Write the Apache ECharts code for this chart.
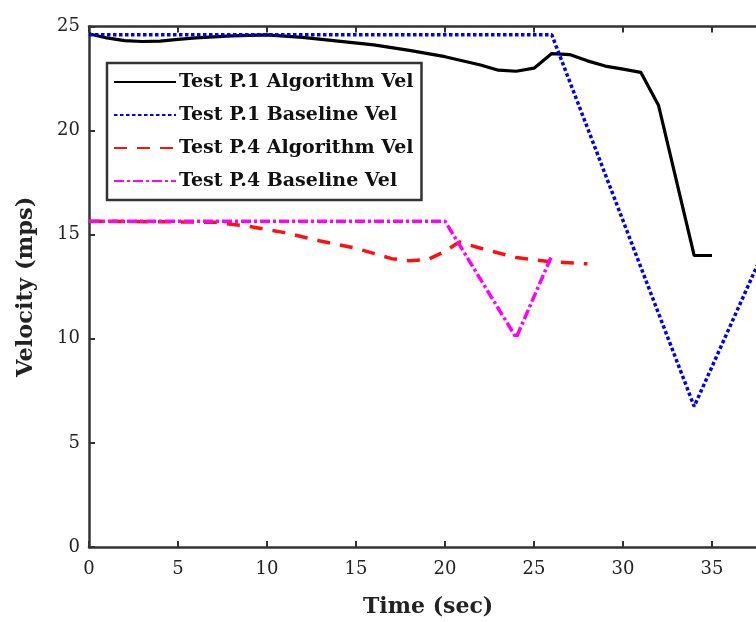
<!DOCTYPE html>
<html>
<head>
<meta charset="utf-8">
<script src="https://cdn.jsdelivr.net/npm/echarts@6/dist/echarts.min.js"></script>
<style>html,body{margin:0;padding:0;background:#fff}#c{width:756px;height:622px}</style>
</head>
<body>
<div id="c"></div>
<script>
const seriesNames = ['Test P.1 Algorithm Vel', 'Test P.1 Baseline Vel', 'Test P.4 Algorithm Vel', 'Test P.4 Baseline Vel'];
const xTicks = [0, 5, 10, 15, 20, 25, 30, 35, 40];
const yTicks = [0, 5, 10, 15, 20, 25];
const p1Algorithm = [[0,24.65],[1,24.45],[2,24.32],[3,24.28],[4,24.3],[5,24.38],[6,24.45],[7,24.5],[8,24.55],[10,24.6],[12,24.48],[14,24.3],[16,24.12],[18,23.85],[20,23.55],[22,23.15],[23,22.9],[24,22.85],[25,23.0],[26,23.7],[27,23.65],[28,23.35],[29,23.1],[30,22.95],[31,22.8],[32,21.2],[34,14.0],[35,14.0]];
const p1Baseline = [[0,24.6],[26,24.6],[34,6.75],[38,14.4]];
const p4Algorithm = [[0,15.65],[7,15.6],[9,15.4],[11,15.1],[13,14.7],[15,14.35],[16,14.1],[17,13.85],[18,13.75],[19,13.8],[20,14.2],[20.8,14.65],[22,14.35],[24,13.9],[26,13.7],[28,13.6]];
const p4Baseline = [[0,15.65],[20,15.65],[24,10.05],[26,14.0]];

const chart = echarts.init(document.getElementById('c'), null, {renderer: 'canvas'});
const axisCol = '#333';
const serif = 'DejaVu Serif';
const baseX = {
  type: 'value', min: 0, max: 40, interval: 5,
  axisLine: {show: true, onZero: false, lineStyle: {color: axisCol, width: 2.5}},
  axisTick: {show: true, inside: true, length: 6, lineStyle: {color: axisCol, width: 2}},
  splitLine: {show: false}
};
const baseY = {
  type: 'value', min: 0, max: 25, interval: 5,
  axisLine: {show: true, onZero: false, lineStyle: {color: axisCol, width: 2.5}},
  axisTick: {show: true, inside: true, length: 6, lineStyle: {color: axisCol, width: 2}},
  splitLine: {show: false}
};
chart.setOption({
  animation: false,
  backgroundColor: '#fff',
  grid: {left: 89, top: 26.5, width: 712, bottom: 75, containLabel: false, outerBoundsMode: 'none'},
  xAxis: [
    Object.assign({}, baseX, {position: 'bottom',
      axisLabel: {show: true, color: '#222', fontFamily: serif, fontSize: 18, margin: 13,
        formatter: v => xTicks.includes(v) ? String(v) : ''}}),
    Object.assign({}, baseX, {position: 'top', axisLabel: {show: false}})
  ],
  yAxis: [
    Object.assign({}, baseY, {position: 'left',
      axisLabel: {show: true, color: '#222', fontFamily: serif, fontSize: 18, margin: 9,
        formatter: v => yTicks.includes(v) ? String(v) : ''},
      name: 'Velocity (mps)', nameLocation: 'middle', nameGap: 51,
      nameTextStyle: {color: '#222', fontFamily: serif, fontWeight: 'bold', fontSize: 22.5}}),
    Object.assign({}, baseY, {position: 'right', axisLabel: {show: false}})
  ],
  legend: {
    orient: 'vertical', left: 107, top: 63,
    data: seriesNames,
    backgroundColor: '#fff',
    borderColor: axisCol, borderWidth: 2.5, borderRadius: 0,
    padding: [9, 8, 9, 6],
    itemWidth: 62, itemHeight: 14, itemGap: 13,
    itemStyle: {opacity: 0},
    textStyle: {color: '#111', fontFamily: serif, fontWeight: 'bold', fontSize: 19, lineHeight: 20, padding: [0, 0, 0, -2]}
  },
  graphic: [{
    type: 'text', left: 363, top: 596,
    style: {text: 'Time (sec)', fill: '#222', font: 'bold 22px "DejaVu Serif"'}
  }],
  series: [
    {name: seriesNames[0], type: 'line', data: p1Algorithm, showSymbol: false, symbol: 'none', z: 3,
      lineStyle: {color: '#000', width: 3.2, type: 'solid'}, itemStyle: {color: '#000'}},
    {name: seriesNames[1], type: 'line', data: p1Baseline, showSymbol: false, symbol: 'none', z: 4,
      lineStyle: {color: '#0000ee', width: 3.5, type: [3.5, 2.5]}, itemStyle: {color: '#0000ee'}},
    {name: seriesNames[2], type: 'line', data: p4Algorithm, showSymbol: false, symbol: 'none', z: 3,
      lineStyle: {color: '#ff1010', width: 3.5, type: [13, 10]}, itemStyle: {color: '#ff1010'}},
    {name: seriesNames[3], type: 'line', data: p4Baseline, showSymbol: false, symbol: 'none', z: 4,
      lineStyle: {color: '#ff00ff', width: 3.5, type: [10, 3, 3, 3]}, itemStyle: {color: '#ff00ff'}}
  ]
});
</script>
</body>
</html>
